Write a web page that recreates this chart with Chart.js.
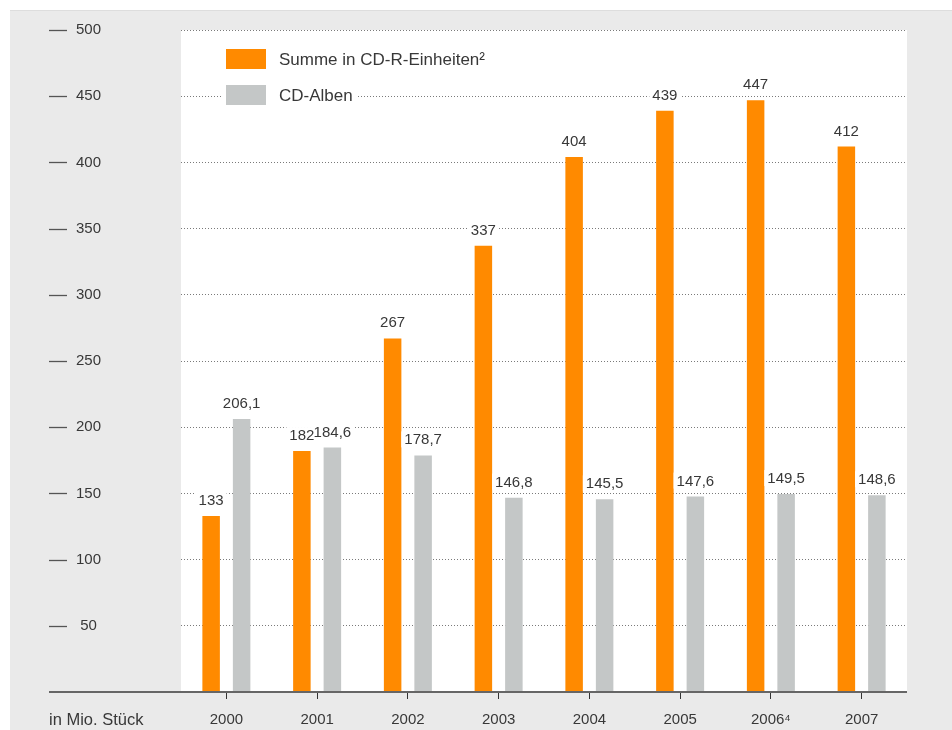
<!DOCTYPE html>
<html><head><meta charset="utf-8">
<script src="https://cdn.jsdelivr.net/npm/chart.js@4/dist/chart.umd.min.js"></script>
<style>html,body{margin:0;padding:0;background:#fff;overflow:hidden}#wrap{width:952px;height:730px;position:relative}canvas{display:block}</style>
</head><body><div id="wrap"><canvas id="c" width="952" height="730"></canvas></div>
<script>
const years = ['2000','2001','2002','2003','2004','2005','2006\u2074','2007'];
const summeCDR = [133,182,267,337,404,439,447,412];
const cdAlben = [206.1,184.6,178.7,146.8,145.5,147.6,149.5,148.6];
const seriesNames = ['Summe in CD-R-Einheiten\u00b2','CD-Alben'];
const seriesColors = ['#ff8a00','#c4c7c7'];
const yTickValues = [50,100,150,200,250,300,350,400,450,500];
const unitLabel = 'in Mio. Stück';

const FONT = '"Liberation Sans", Arial, Helvetica, sans-serif';
const TXT = '#383838';

const bgPlugin = {
  id:'bg',
  beforeDraw(chart){
    const {ctx, chartArea:a} = chart;
    ctx.save();
    ctx.fillStyle='#ffffff'; ctx.fillRect(0,0,chart.width,chart.height);
    ctx.fillStyle='#eaeaea'; ctx.fillRect(10,10,chart.width-10,chart.height-10);
    ctx.fillStyle='#dddddd'; ctx.fillRect(10,10,chart.width-10,1);
    ctx.fillStyle='#ffffff'; ctx.fillRect(a.left,a.top,a.right-a.left,a.bottom-a.top);
    ctx.restore();
  }
};

const overlayPlugin = {
  id:'overlay',
  afterDatasetsDraw(chart){
    const {ctx, chartArea:a} = chart;
    const ys = chart.scales.y;
    ctx.save();
    // data labels
    ctx.font = '15px '+FONT; ctx.textAlign='center'; ctx.textBaseline='alphabetic';
    chart.data.datasets.forEach((ds,di)=>{
      const meta = chart.getDatasetMeta(di);
      meta.data.forEach((bar,i)=>{
        const t = String(ds.data[i]).replace('.',',');
        const w = ctx.measureText(t).width;
        const by = bar.y-11;
        ctx.fillStyle='#ffffff'; ctx.fillRect(bar.x-w/2-3, by-13, w+6, 16);
      });
    });
    chart.data.datasets.forEach((ds,di)=>{
      const meta = chart.getDatasetMeta(di);
      meta.data.forEach((bar,i)=>{
        const t = String(ds.data[i]).replace('.',',');
        ctx.fillStyle=TXT; ctx.fillText(t, bar.x, bar.y-11);
      });
    });
    // legend
    ctx.font = '17px '+FONT; ctx.textAlign='left'; ctx.textBaseline='middle';
    chart.data.datasets.forEach((ds,di)=>{
      const bx = a.left+45, by = a.top+19+di*36;
      const tw = ctx.measureText(ds.label).width;
      ctx.fillStyle='#ffffff'; ctx.fillRect(bx-3, by-3, 40+13+tw+8, 26);
      ctx.fillStyle=ds.backgroundColor; ctx.fillRect(bx,by,40,20);
      ctx.fillStyle=TXT; ctx.fillText(ds.label, bx+53, by+11);
    });
    // axis line
    ctx.strokeStyle='#666666'; ctx.lineWidth=2;
    ctx.beginPath(); ctx.moveTo(49,a.bottom); ctx.lineTo(a.right,a.bottom); ctx.stroke();
    // y dashes
    ctx.strokeStyle='#555555'; ctx.lineWidth=1.3;
    yTickValues.forEach(v=>{
      const y = Math.round(ys.getPixelForValue(v))+0.5;
      ctx.beginPath(); ctx.moveTo(49,y); ctx.lineTo(67,y); ctx.stroke();
    });
    // unit label
    ctx.font='16.5px '+FONT; ctx.fillStyle=TXT; ctx.textAlign='left'; ctx.textBaseline='alphabetic';
    ctx.fillText(unitLabel, 49, 725);
    ctx.restore();
  }
};

new Chart(document.getElementById('c'), {
  type:'bar',
  data:{
    labels: years,
    datasets:[
      {label:seriesNames[0], data:summeCDR, backgroundColor:seriesColors[0], categoryPercentage:0.672, barPercentage:0.574},
      {label:seriesNames[1], data:cdAlben, backgroundColor:seriesColors[1], categoryPercentage:0.672, barPercentage:0.574}
    ]
  },
  options:{
    responsive:false, animation:false, devicePixelRatio:1,
    layout:{padding:{top:30,right:45,left:0,bottom:0}},
    plugins:{legend:{display:false}, tooltip:{enabled:false}},
    scales:{
      x:{
        offset:true,
        grid:{offset:false, drawOnChartArea:false, drawTicks:true, tickLength:7, color:'#333', lineWidth:1},
        border:{display:false},
        ticks:{font:{family:FONT,size:15}, color:TXT, padding:12, maxRotation:0, autoSkip:false},
        afterFit(s){ s.height = 38; }
      },
      y:{
        min:0, max:500,
        ticks:{stepSize:50, callback:v=> v===0 ? '' : v, crossAlign:'center', padding:0, font:{family:FONT,size:15}, color:TXT},
        grid:{drawTicks:true, tickLength:80, tickColor:'rgba(0,0,0,0)', color:ctx=> (ctx.tick && ctx.tick.value===0) ? 'rgba(0,0,0,0)' : '#7a7a7a', lineWidth:1},
        border:{display:false, dash:[1,2]},
        afterFit(s){ s.width = 181; }
      }
    }
  },
  plugins:[bgPlugin, overlayPlugin]
});
</script>
</body></html>
